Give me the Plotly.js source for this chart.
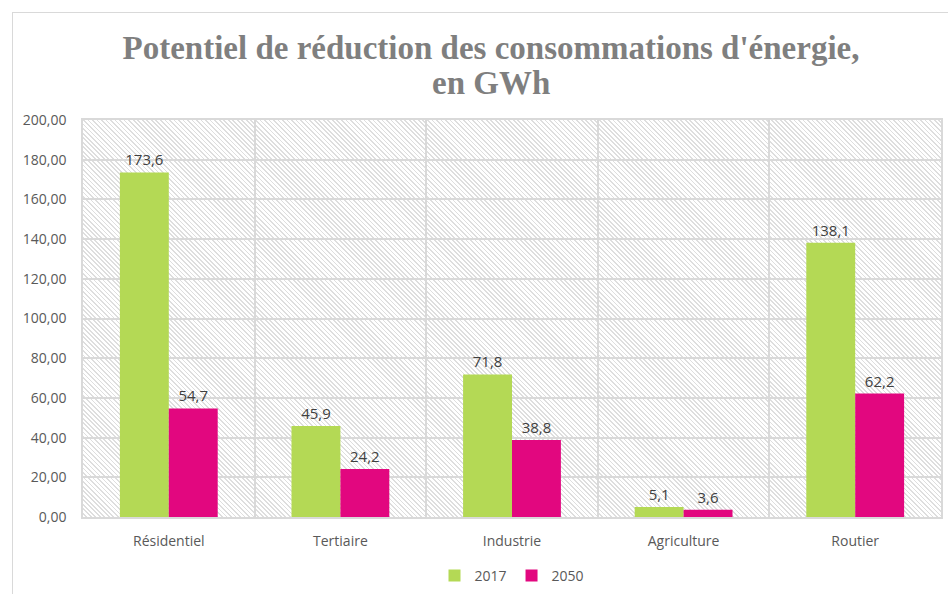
<!DOCTYPE html>
<html>
<head>
<meta charset="utf-8">
<script src="https://cdn.plot.ly/plotly-3.0.1.min.js"></script>
<style>
  body { margin: 0; background: #fff; }
  #frame { position: absolute; left: 12px; top: 12px; width: 940px; height: 600px; border: 1px solid #d9d9d9; }
  #hatch { position: absolute; left: 83px; top: 120px; width: 858px; height: 397px;
    background: repeating-linear-gradient(45deg, #ffffff 0px, #ffffff 2px, #dedede 2px, #dedede 3.2px); }
  #myDiv { position: absolute; left: 0; top: 0; width: 948px; height: 594px; }
</style>
</head>
<body>
<div id="frame"></div>
<div id="hatch"></div>
<div id="myDiv"></div>
<script>
var categories = ['Résidentiel', 'Tertiaire', 'Industrie', 'Agriculture', 'Routier'];
var values2017 = [173.6, 45.9, 71.8, 5.1, 138.1];
var values2050 = [54.7, 24.2, 38.8, 3.6, 62.2];
var yTicks = [0, 20, 40, 60, 80, 100, 120, 140, 160, 180, 200];

var labelFont = {family: 'Open Sans, sans-serif', size: 15, color: '#404040'};
var tickFont = {family: 'Open Sans, sans-serif', size: 14, color: '#595959'};
var titleFont = {family: 'Liberation Serif, serif', size: 33, color: '#7f7f7f', weight: 'bold'};

var trace1 = {
  x: categories,
  y: values2017,
  name: '2017',
  type: 'bar',
  marker: {color: '#b4d955'},
  texttemplate: '%{y:.1f}',
  textposition: 'outside',
  textfont: labelFont,
  cliponaxis: false
};

var trace2 = {
  x: categories,
  y: values2050,
  name: '2050',
  type: 'bar',
  marker: {color: '#e2077f'},
  texttemplate: '%{y:.1f}',
  textposition: 'outside',
  textfont: labelFont,
  cliponaxis: false
};

var layout = {
  width: 948,
  height: 594,
  margin: {l: 83, r: 7, t: 120, b: 77},
  paper_bgcolor: 'rgba(0,0,0,0)',
  plot_bgcolor: 'rgba(0,0,0,0)',
  separators: ', ',
  title: {
    text: "Potentiel de réduction des consommations d'énergie,",
    font: titleFont,
    xref: 'container',
    x: 491 / 948, xanchor: 'center',
    y: 1 - 47 / 594, yanchor: 'middle'
  },
  annotations: [{
    text: 'en GWh',
    font: titleFont,
    xref: 'paper', yref: 'paper',
    x: (491 - 83) / 858, y: 1 + 37 / 397,
    xanchor: 'center', yanchor: 'middle',
    showarrow: false
  }],
  xaxis: {
    type: 'category',
    tickson: 'boundaries',
    ticks: '',
    showgrid: true,
    gridcolor: '#d9d9d9',
    gridwidth: 1.5,
    showline: true,
    linecolor: '#d9d9d9',
    linewidth: 2,
    mirror: true,
    automargin: false,
    ticklabelstandoff: 10,
    tickfont: tickFont
  },
  yaxis: {
    range: [0, 200],
    tickvals: yTicks,
    tickformat: '.2f',
    ticks: '',
    showgrid: true,
    gridcolor: '#d9d9d9',
    gridwidth: 1.5,
    zeroline: false,
    showline: true,
    linecolor: '#d9d9d9',
    linewidth: 1.5,
    mirror: true,
    automargin: false,
    ticklabelstandoff: 12,
    tickfont: tickFont
  },
  legend: {
    orientation: 'h',
    x: 0.5, xanchor: 'center',
    yref: 'container',
    y: 1 - 576 / 594, yanchor: 'middle',
    font: tickFont,
    itemwidth: 30,
    bgcolor: 'rgba(0,0,0,0)'
  },
  barmode: 'group',
  bargap: 0.43,
  bargroupgap: 0,
  showlegend: true
};

Plotly.newPlot('myDiv', [trace1, trace2], layout, {displayModeBar: false});
</script>
</body>
</html>
